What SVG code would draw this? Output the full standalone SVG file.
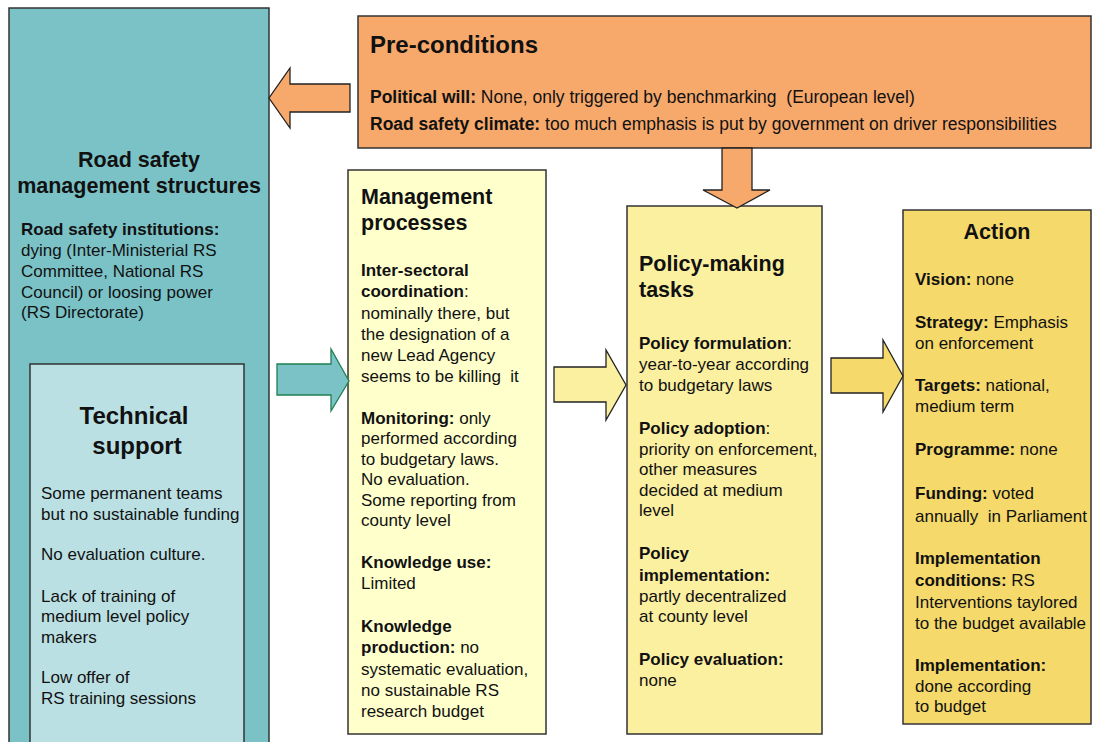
<svg xmlns="http://www.w3.org/2000/svg" width="1094" height="742" viewBox="0 0 1094 742">
<style>
text{font-family:"Liberation Sans",Arial,sans-serif;fill:#111;font-size:17px}
.b{font-weight:bold}
.h{font-weight:bold;font-size:21.5px}
.t{font-weight:bold;font-size:24px}
.p{font-size:17.5px}
.pre{white-space:pre}
.box{stroke:#333;stroke-width:1.5}
.arr{stroke:#222;stroke-width:1.3;stroke-linejoin:miter}
</style>
<rect width="1094" height="742" fill="#fff"/>
<g id="structures">
<rect class="box" x="9" y="8" width="260" height="740" fill="#7BC2C7"/>
<text class="h" x="139" y="167" text-anchor="middle">Road safety</text>
<text class="h" x="139" y="193" text-anchor="middle">management structures</text>
<text class="b" x="21" y="235">Road safety institutions:</text>
<text x="21" y="256">dying (Inter-Ministerial RS</text>
<text x="21" y="277">Committee, National RS</text>
<text x="21" y="298">Council) or loosing power</text>
<text x="21" y="318">(RS Directorate)</text>
</g>
<g id="technical">
<rect class="box" x="30" y="364" width="214" height="384" fill="#BBE0E3"/>
<text class="t" x="134" y="424" text-anchor="middle">Technical</text>
<text class="t" x="137" y="454" text-anchor="middle">support</text>
<text x="41" y="499">Some permanent teams</text>
<text x="41" y="520">but no sustainable funding</text>
<text x="41" y="560">No evaluation culture.</text>
<text x="41" y="602">Lack of training of</text>
<text x="41" y="622">medium level policy</text>
<text x="41" y="643">makers</text>
<text x="41" y="683">Low offer of</text>
<text x="41" y="704">RS training sessions</text>
</g>
<g id="preconditions">
<rect class="box" x="358" y="16" width="733" height="132" fill="#F7A96C"/>
<text class="t" x="370" y="53">Pre-conditions</text>
<text class="p pre" x="370" y="103"><tspan class="b">Political will:</tspan> None, only triggered by benchmarking  (European level)</text>
<text class="p" x="370" y="130"><tspan class="b">Road safety climate:</tspan> too much emphasis is put by government on driver responsibilities</text>
</g>
<g id="management">
<rect class="box" x="348" y="170" width="198" height="564" fill="#FFFFCC"/>
<text class="h" x="361" y="204">Management</text>
<text class="h" x="361" y="230">processes</text>
<text class="b" x="361" y="276">Inter-sectoral</text>
<text x="361" y="297"><tspan class="b">coordination</tspan>:</text>
<text x="361" y="319">nominally there, but</text>
<text x="361" y="340">the designation of a</text>
<text x="361" y="361">new Lead Agency</text>
<text class="pre" x="361" y="382">seems to be killing  it</text>
<text x="361" y="424"><tspan class="b">Monitoring:</tspan> only</text>
<text x="361" y="444">performed according</text>
<text x="361" y="465">to budgetary laws.</text>
<text x="361" y="485">No evaluation.</text>
<text x="361" y="506">Some reporting from</text>
<text x="361" y="526">county level</text>
<text class="b" x="361" y="568">Knowledge use:</text>
<text x="361" y="589">Limited</text>
<text class="b" x="361" y="632">Knowledge</text>
<text x="361" y="653"><tspan class="b">production:</tspan> no</text>
<text x="361" y="675">systematic evaluation,</text>
<text x="361" y="696">no sustainable RS</text>
<text x="361" y="717">research budget</text>
</g>
<g id="policy">
<rect class="box" x="627" y="206" width="195" height="528" fill="#FBEFA0"/>
<text class="h" x="639" y="271">Policy-making</text>
<text class="h" x="639" y="297">tasks</text>
<text x="639" y="349"><tspan class="b">Policy formulation</tspan>:</text>
<text x="639" y="370">year-to-year according</text>
<text x="639" y="391">to budgetary laws</text>
<text x="639" y="434"><tspan class="b">Policy adoption</tspan>:</text>
<text x="639" y="455">priority on enforcement,</text>
<text x="639" y="475">other measures</text>
<text x="639" y="496">decided at medium</text>
<text x="639" y="516">level</text>
<text class="b" x="639" y="559">Policy</text>
<text class="b" x="639" y="581">implementation:</text>
<text x="639" y="602">partly decentralized</text>
<text x="639" y="622">at county level</text>
<text class="b" x="639" y="665">Policy evaluation:</text>
<text x="639" y="686">none</text>
</g>
<g id="action">
<rect class="box" x="903" y="210" width="188" height="514" fill="#F5D96B"/>
<text class="h" x="997" y="239" text-anchor="middle">Action</text>
<text x="915" y="285"><tspan class="b">Vision:</tspan> none</text>
<text x="915" y="328"><tspan class="b">Strategy:</tspan> Emphasis</text>
<text x="915" y="349">on enforcement</text>
<text x="915" y="391"><tspan class="b">Targets:</tspan> national,</text>
<text x="915" y="412">medium term</text>
<text x="915" y="455"><tspan class="b">Programme:</tspan> none</text>
<text x="915" y="499"><tspan class="b">Funding:</tspan> voted</text>
<text class="pre" x="915" y="522">annually  in Parliament</text>
<text class="b" x="915" y="564">Implementation</text>
<text x="915" y="586"><tspan class="b">conditions:</tspan> RS</text>
<text x="915" y="608">Interventions taylored</text>
<text x="915" y="629">to the budget available</text>
<text class="b" x="915" y="671">Implementation:</text>
<text x="915" y="692">done according</text>
<text x="915" y="712">to budget</text>
</g>
<g id="connectors">
<polygon class="arr" fill="#F7A96C" points="350,84 290,84 290,68 269,98 290,128 290,112 350,112"/>
<polygon class="arr" fill="#F7A96C" points="722,148 752,148 752,190 770,190 737,208 703,190 722,190"/>
<polygon fill="#7BC2C7" stroke="#1E8050" stroke-width="1.3" points="277,364 331,364 331,349 349,381 331,411 331,395 277,395"/>
<polygon class="arr" fill="#FBEFA0" points="554,367 606,367 606,350 626,385 606,420 606,402 554,402"/>
<polygon class="arr" fill="#F5D96B" points="831,358 883,358 883,340 903,376 883,412 883,393 831,393"/>
</g>
</svg>
